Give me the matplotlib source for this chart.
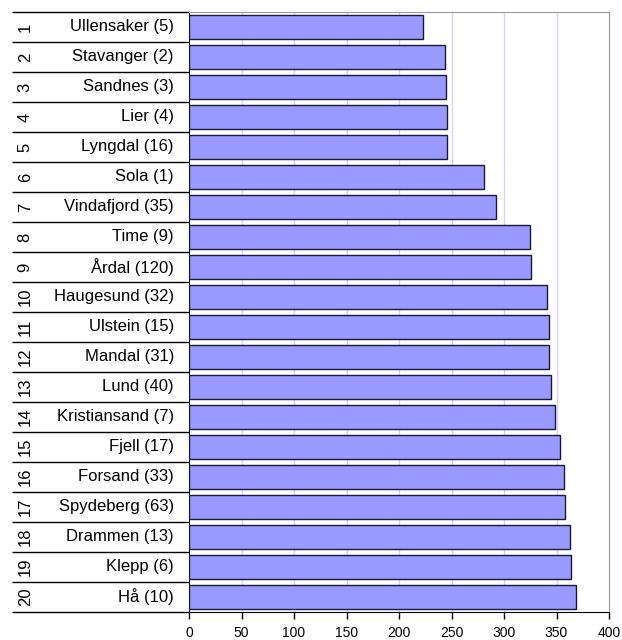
import matplotlib.pyplot as plt
import numpy as np

plt.rcParams['font.family'] = ['Liberation Sans', 'DejaVu Sans']

ranks = list(range(1, 21))
names = ['Ullensaker (5)', 'Stavanger (2)', 'Sandnes (3)', 'Lier (4)', 'Lyngdal (16)',
         'Sola (1)', 'Vindafjord (35)', 'Time (9)', 'Årdal (120)', 'Haugesund (32)',
         'Ulstein (15)', 'Mandal (31)', 'Lund (40)', 'Kristiansand (7)', 'Fjell (17)',
         'Forsand (33)', 'Spydeberg (63)', 'Drammen (13)', 'Klepp (6)', 'Hå (10)']
values = [223, 244, 245, 246, 246, 281, 292, 325, 326, 341,
          343, 343, 344.5, 349, 353, 357, 358, 362.5, 364, 369]
xticks = list(range(0, 401, 50))

W, H = 622, 640
fig = plt.figure(figsize=(W / 100, H / 100), dpi=100)
ax = fig.add_axes([189 / W, (H - 612) / H, 420 / W, 600 / H])

y = np.array(ranks)
ax.barh(y, values, height=0.77, color='#9999ff', edgecolor='#1a1a33',
        linewidth=1.0, zorder=3)

ax.set_xlim(0, 400)
ax.set_ylim(20.5, 0.5)
ax.set_xticks(xticks)
ax.set_yticks([])
ax.tick_params(axis='x', direction='out', length=5, width=1, colors='black',
               labelsize=10, pad=5)
for v in xticks[1:-1]:
    ax.axvline(v, color='#d4d4ff', linewidth=1, zorder=1)

for side in ['top', 'right']:
    ax.spines[side].set_color('#999999')
for side in ['left', 'bottom']:
    ax.spines[side].set_color('black')

# category columns on the left: rank (rotated) and name
tr = ax.get_yaxis_transform()
x0 = (12 - 189) / 420
for r, name in zip(ranks, names):
    ax.text(-0.036, r, name, transform=tr, ha='right', va='center', fontsize=12)
    ax.text(-0.39, r, str(r), transform=tr, ha='center', va='center',
            rotation=90, fontsize=12)
for b in np.arange(0.5, 21, 1):
    ax.plot([x0, 0], [b, b], transform=tr, color='black', linewidth=1,
            clip_on=False, solid_capstyle='butt')

fig.savefig('out.png', dpi=100)
